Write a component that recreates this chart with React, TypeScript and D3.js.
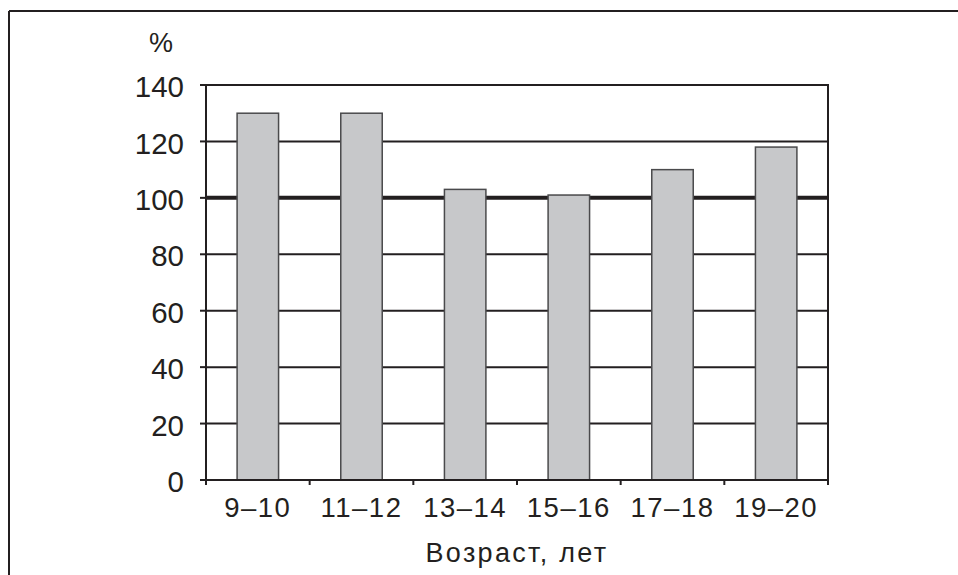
import React from "react";
import * as d3 from "d3";

const categories = ["9–10", "11–12", "13–14", "15–16", "17–18", "19–20"];
const values = [130, 130, 103, 101, 110, 118];
const yTicks = [0, 20, 40, 60, 80, 100, 120, 140];
const yUnit = "%";
const xTitle = "Возраст, лет";

export default function App() {
  const W = 958, H = 575;
  const left = 206, right = 828, top = 85, bottom = 480;
  const x = d3.scaleBand<string>().domain(categories).range([left, right]).padding(0);
  const y = d3.scaleLinear().domain([0, 140]).range([bottom, top]);
  const bw = x.bandwidth();
  const barW = bw * 0.4;
  const ink = "#231f20";
  const font = "'Liberation Sans', Arial, Helvetica, sans-serif";
  const boundaries = categories.map((c) => x(c)!).concat([right]);

  return (
    <svg width={W} height={H} style={{ position: "absolute", left: 0, top: 0, background: "#fff" }}>
      <rect x={0} y={0} width={W} height={H} fill="#fff" />
      {/* outer frame */}
      <line x1={9} y1={11} x2={W} y2={11} stroke={ink} strokeWidth={2} />
      <line x1={9} y1={11} x2={9} y2={H} stroke={ink} strokeWidth={2} />

      {/* gridlines */}
      {yTicks.filter((t) => t > 0).map((t) => (
        <line key={t} x1={left} x2={right} y1={y(t)} y2={y(t)} stroke={ink} strokeWidth={t === 100 ? 4 : 2} />
      ))}
      {/* right border */}
      <line x1={right} x2={right} y1={top - 1} y2={bottom + 5} stroke={ink} strokeWidth={2} />

      {/* bars */}
      {categories.map((c, i) => {
        const cx = x(c)! + bw / 2;
        return (
          <rect key={c} x={cx - barW / 2} y={y(values[i])} width={barW} height={bottom - y(values[i])}
            fill="#c7c8ca" stroke="#4a4a4c" strokeWidth={1.5} />
        );
      })}

      {/* axes */}
      <line x1={left} x2={left} y1={top - 1} y2={bottom + 5} stroke={ink} strokeWidth={2} />
      <line x1={left - 6} x2={right + 1} y1={bottom} y2={bottom} stroke={ink} strokeWidth={2} />
      {yTicks.map((t) => (
        <line key={"yt" + t} x1={left - 6} x2={left} y1={y(t)} y2={y(t)} stroke={ink} strokeWidth={2} />
      ))}
      {boundaries.map((b, i) => (
        <line key={"xt" + i} x1={b} x2={b} y1={bottom} y2={bottom + 5} stroke={ink} strokeWidth={2} />
      ))}

      {/* y labels */}
      {yTicks.map((t) => (
        <text key={"yl" + t} x={184} y={y(t) + 1.5} dy="0.36em" textAnchor="end" fontFamily={font} fontSize={29.5} fill={ink}>
          {t}
        </text>
      ))}
      <text x={161} y={52} textAnchor="middle" fontFamily={font} fontSize={27} fill={ink}>{yUnit}</text>

      {/* x labels */}
      {categories.map((c) => (
        <text key={"xl" + c} x={x(c)! + bw / 2} y={516.5} textAnchor="middle" fontFamily={font} fontSize={27.5} letterSpacing={1.5} fill={ink}>
          {c}
        </text>
      ))}
      <text x={517} y={561.5} textAnchor="middle" fontFamily={font} fontSize={27} letterSpacing={2.3} fill={ink}>{xTitle}</text>
    </svg>
  );
}
